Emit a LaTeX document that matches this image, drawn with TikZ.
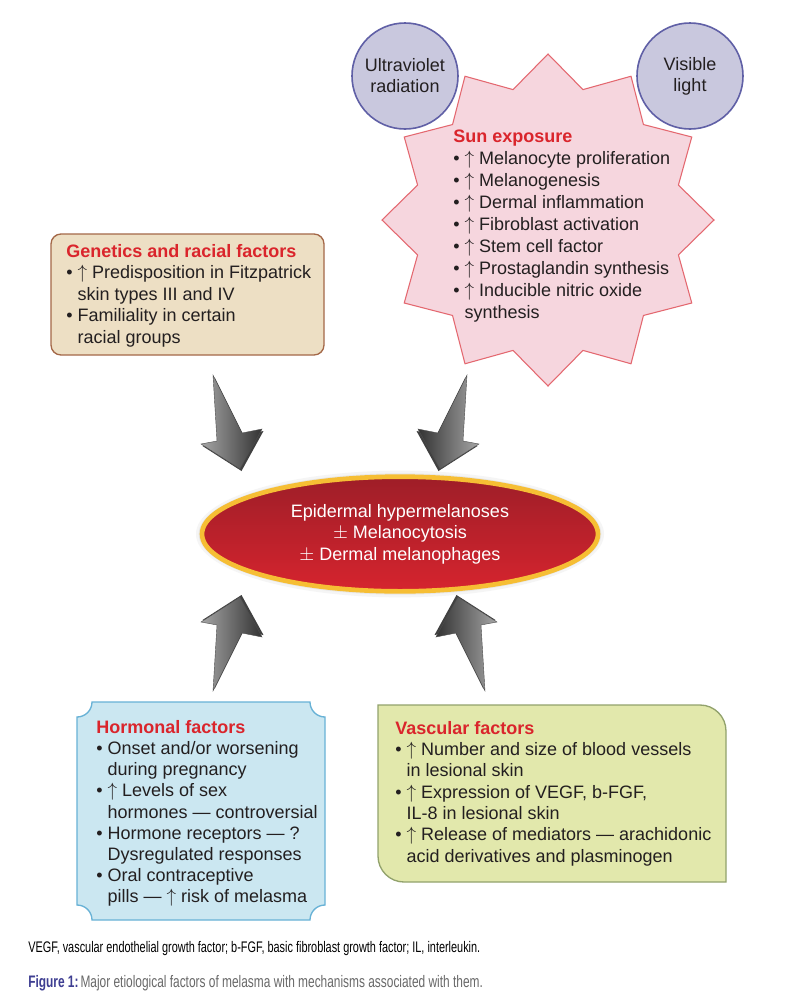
\documentclass[tikz,border=0pt]{standalone}
\usepackage{fontspec}
\setmainfont{Liberation Sans}
\usepackage{graphicx}
\usetikzlibrary{shapes.geometric,positioning,calc}
\definecolor{titlered}{RGB}{218,37,44}
\definecolor{bodytext}{RGB}{35,31,32}
\definecolor{sunfill}{RGB}{246,214,222}
\definecolor{sundraw}{RGB}{228,104,112}
\definecolor{lightfill}{RGB}{201,200,222}
\definecolor{lightdraw}{RGB}{96,96,166}
\definecolor{genfill}{RGB}{237,223,196}
\definecolor{gendraw}{RGB}{164,104,72}
\definecolor{hormfill}{RGB}{203,231,241}
\definecolor{hormdraw}{RGB}{104,178,214}
\definecolor{vascfill}{RGB}{226,232,172}
\definecolor{vascdraw}{RGB}{146,162,108}
\definecolor{coredark}{RGB}{158,30,40}
\definecolor{corelight}{RGB}{214,36,46}
\definecolor{coreedge}{RGB}{246,190,52}
\definecolor{figblue}{RGB}{62,62,146}
\definecolor{capgray}{RGB}{105,105,105}
\newcommand{\up}{\smash{$\uparrow$}}
\newcommand{\hang}{\phantom{\textbullet\ }}

\begin{document}
\begin{tikzpicture}[
    x=0.75pt, y=-0.75pt,
    node distance=1.2cm,
    bodytxt/.style={anchor=north west, inner sep=0pt, align=left, text=bodytext, font=\fontsize{13.5}{16.5}\selectfont},
    lightsrc/.style={circle, minimum size=79.5pt, inner sep=0pt, fill=lightfill, draw=lightdraw, line width=1.2pt, align=center, text=bodytext, font=\fontsize{13.5}{15.75}\selectfont},
    sunstar/.style={fill=sunfill, draw=sundraw, line width=0.8pt, line join=miter},
    genbox/.style={rectangle, rounded corners=7.5pt, minimum width=204.75pt, minimum height=90.75pt, fill=genfill, draw=gendraw, line width=1pt},
    core/.style={ellipse, minimum width=297pt, minimum height=86pt, top color=coredark, bottom color=corelight, draw=coreedge, line width=3.5pt, text=white, align=center, font=\fontsize{13.5}{16.2}\selectfont},
    pics/chevron/.style 2 args={code={
        \fill[black!75] (1.5,2) -- (-37.5,-23) -- (-21.5,-26) -- (-25.5,-92) -- (3.5,-34) -- (23.5,-38) -- cycle;
        \draw[draw=black!70, line width=0.3pt, left color=#1, right color=#2]
            (0,0) -- (-39,-25) -- (-23,-28) -- (-27,-94) -- (2,-36) -- (22,-40) -- cycle;
    }}
]
    \fill[white] (0,0) rectangle (788,1004);

    % sun exposure
    \coordinate (sun) at (548,220);
    \draw[sunstar] ($(sun)+(90:166)$) \foreach \k in {1,...,23} { -- ($(sun)+({90+15*\k}:{ifthenelse(isodd(\k),135,166)})$) } -- cycle;
    \node[lightsrc] (uv) at (405,76) {Ultraviolet\\radiation};
    \node[lightsrc] (vis) at (690,76) {Visible\\light};
    \node[bodytxt] (suntext) at (453,130) {\textcolor{titlered}{\bfseries Sun exposure}\\
        \textbullet\ \up\ Melanocyte proliferation\\
        \textbullet\ \up\ Melanogenesis\\
        \textbullet\ \up\ Dermal inflammation\\
        \textbullet\ \up\ Fibroblast activation\\
        \textbullet\ \up\ Stem cell factor\\
        \textbullet\ \up\ Prostaglandin synthesis\\
        \textbullet\ \up\ Inducible nitric oxide\\
        \hang synthesis};

    % genetics
    \node[genbox] (genetics) at (187.5,294.5) {};
    \node[bodytxt, font=\fontsize{13.5}{16.1}\selectfont] (gentext) at (66,244) {\textcolor{titlered}{\bfseries Genetics and racial factors}\\
        \textbullet\ \up\ Predisposition in Fitzpatrick\\
        \hang skin types III and IV\\
        \textbullet\ Familiality in certain\\
        \hang racial groups};

    % centre
    \node[ellipse, minimum width=306pt, minimum height=95pt, fill=gray!8] (halo) at (400,534) {};
    \node[ellipse, minimum width=302pt, minimum height=91pt, fill=gray!18] (glow) at (halo) {};
    \node[core] (core) at (glow) {Epidermal hypermelanoses\\$\pm$ Melanocytosis\\$\pm$ Dermal melanophages};

    \pic at (240,469) {chevron={black!35}{black!80}};
    \pic[xscale=-1] at (440,469) {chevron={black!80}{black!35}};
    \pic[yscale=-1] at (240,597) {chevron={black!35}{black!80}};
    \pic[xscale=-1, yscale=-1] at (458,597) {chevron={black!80}{black!35}};

    % hormonal
    \draw[fill=hormfill, draw=hormdraw, line width=1pt] (92,702) -- (310,702) arc[start angle=180, end angle=90, radius=15]
        -- (325,905) arc[start angle=270, end angle=180, radius=15]
        -- (92,920) arc[start angle=0, end angle=-90, radius=15]
        -- (77,717) arc[start angle=90, end angle=0, radius=15] -- cycle;
    \node[bodytxt, font=\fontsize{13.5}{15.9}\selectfont] (hormtext) at (96,720) {\textcolor{titlered}{\bfseries Hormonal factors}\\
        \textbullet\ Onset and/or worsening\\
        \hang during pregnancy\\
        \textbullet\ \up\ Levels of sex\\
        \hang hormones — controversial\\
        \textbullet\ Hormone receptors — ?\\
        \hang Dysregulated responses\\
        \textbullet\ Oral contraceptive\\
        \hang pills — \up\ risk of melasma};

    % vascular
    \draw[fill=vascfill, draw=vascdraw, line width=1pt] (378,705) -- (700,705) arc[start angle=-90, end angle=0, radius=26]
        -- (726,882) -- (404,882) arc[start angle=90, end angle=180, radius=26] -- cycle;
    \node[bodytxt, font=\fontsize{13.5}{16}\selectfont] (vasctext) at (395,721) {\textcolor{titlered}{\bfseries Vascular factors}\\
        \textbullet\ \up\ Number and size of blood vessels\\
        \hang in lesional skin\\
        \textbullet\ \up\ Expression of VEGF, b-FGF,\\
        \hang IL-8 in lesional skin\\
        \textbullet\ \up\ Release of mediators — arachidonic\\
        \hang acid derivatives and plasminogen};

    % captions
    \node[anchor=base west, inner sep=0pt, font=\fontsize{11.5}{12}\selectfont] (abbrev) at (28,952)
        {\resizebox{339pt}{\height}{VEGF, vascular endothelial growth factor; b-FGF, basic fibroblast growth factor; IL, interleukin.}};
    \node[anchor=base west, inner sep=0pt, font=\fontsize{12.5}{14}\selectfont] (caption) at (28,987)
        {\resizebox{341pt}{\height}{\textcolor{figblue}{\bfseries Figure 1:}\,\textcolor{capgray}{Major etiological factors of melasma with mechanisms associated with them.}}};
\end{tikzpicture}
\end{document}
